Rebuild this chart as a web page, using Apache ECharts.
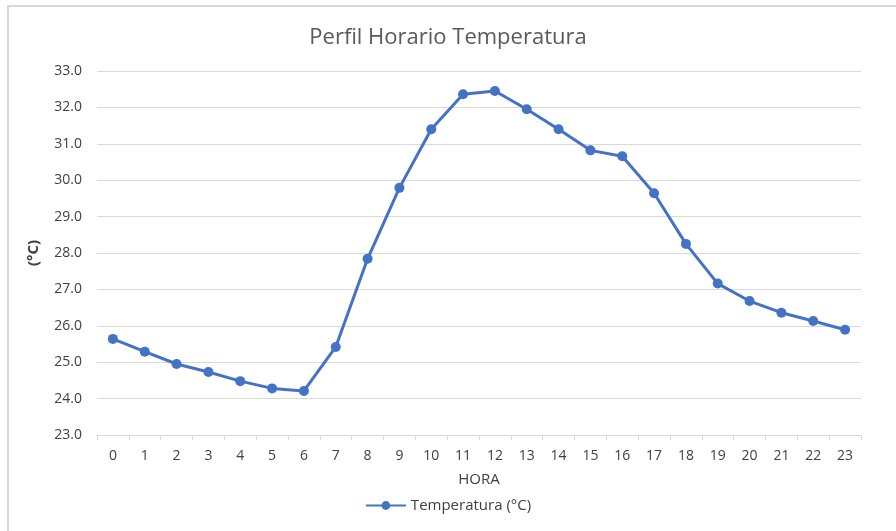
<!DOCTYPE html>
<html>
<head>
<meta charset="utf-8">
<script src="https://cdn.jsdelivr.net/npm/echarts@6/dist/echarts.min.js"></script>
<style>
  html, body { margin: 0; padding: 0; background: #fff; }
  #frame { position: absolute; left: 7px; top: 5px; right: 0; bottom: 0;
           border-left: 2px solid #d9d9d9; border-top: 2px solid #d9d9d9; }
  #tempChart { position: absolute; left: 0; top: 0; width: 896px; height: 531px; }
</style>
</head>
<body>
<div id="frame"></div>
<div id="tempChart"></div>
<script>
  const hours = ['0', '1', '2', '3', '4', '5', '6', '7', '8', '9', '10', '11',
                 '12', '13', '14', '15', '16', '17', '18', '19', '20', '21', '22', '23'];
  const temperature = [25.64, 25.29, 24.95, 24.73, 24.48, 24.28, 24.21, 25.42,
                       27.84, 29.79, 31.40, 32.36, 32.45, 31.95, 31.40, 30.82,
                       30.66, 29.64, 28.25, 27.16, 26.68, 26.36, 26.13, 25.89];

  const font = 'Open Sans, Noto Sans, sans-serif';
  const grey = '#d9d9d9';

  echarts.init(document.querySelector('#tempChart')).setOption({
    animation: false,
    textStyle: { fontFamily: font },
    title: {
      text: 'Perfil Horario Temperatura',
      left: 'center',
      top: 22,
      textStyle: { fontFamily: font, fontSize: 22, fontWeight: 'normal', color: '#595959' }
    },
    legend: {
      bottom: 13,
      left: 'center',
      itemWidth: 40,
      itemHeight: 11,
      itemGap: 4,
      textStyle: { fontFamily: font, fontSize: 15, color: '#404040' },
      data: ['Temperatura (°C)']
    },
    grid: { left: 97, right: 35, top: 71, bottom: 96 },
    xAxis: {
      type: 'category',
      data: hours,
      boundaryGap: true,
      name: 'HORA',
      nameLocation: 'middle',
      nameGap: 37,
      nameTextStyle: { fontFamily: font, fontSize: 15, color: '#404040' },
      axisLine: { lineStyle: { color: grey, width: 1 } },
      axisTick: { show: true, length: 5, lineStyle: { color: grey } },
      axisLabel: { fontFamily: font, fontSize: 14, color: '#404040', margin: 14 }
    },
    yAxis: {
      type: 'value',
      min: 23,
      max: 33,
      interval: 1,
      name: '(°C)',
      nameLocation: 'middle',
      nameGap: 56,
      nameTextStyle: { fontFamily: font, fontSize: 15, fontWeight: 'bold', color: '#404040' },
      axisLine: { show: false },
      axisTick: { show: false },
      axisLabel: {
        fontFamily: font, fontSize: 14, color: '#404040', margin: 15,
        formatter: v => v.toFixed(1)
      },
      splitLine: { lineStyle: { color: grey, width: 1 } }
    },
    series: [
      {
        name: 'Temperatura (°C)',
        type: 'line',
        data: temperature,
        symbol: 'circle',
        symbolSize: 10,
        lineStyle: { color: '#4472C4', width: 3 },
        itemStyle: { color: '#4472C4' }
      }
    ]
  });
</script>
</body>
</html>
